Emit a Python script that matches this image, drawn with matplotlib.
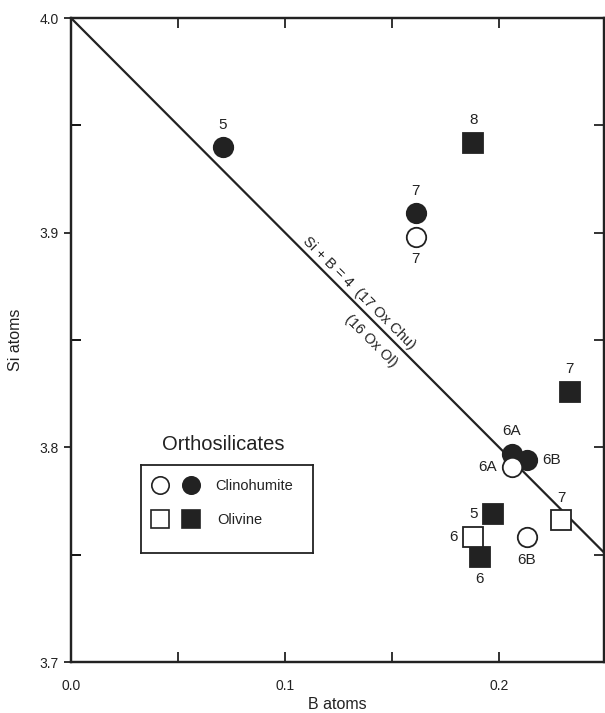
import matplotlib
matplotlib.use("Agg")
import matplotlib.pyplot as plt
import numpy as np

plt.rcParams['font.family'] = ['Liberation Sans', 'DejaVu Sans']

## data: (B atoms, Si atoms, label, label placement)
chu_open_x = [0.161, 0.206, 0.213]
chu_open_y = [3.898, 3.791, 3.758]
chu_open_lab = ['7', '6A', '6B']
chu_open_pos = ['below', 'left', 'below']

chu_fill_x = [0.071, 0.161, 0.206, 0.213]
chu_fill_y = [3.940, 3.909, 3.797, 3.794]
chu_fill_lab = ['5', '7', '6A', '6B']
chu_fill_pos = ['above', 'above', 'above', 'right']

oli_open_x = [0.188, 0.229]
oli_open_y = [3.758, 3.766]
oli_open_lab = ['6', '7']
oli_open_pos = ['left', 'above']

oli_fill_x = [0.188, 0.233, 0.197, 0.191]
oli_fill_y = [3.942, 3.826, 3.769, 3.749]
oli_fill_lab = ['8', '7', '5', '6']
oli_fill_pos = ['above', 'above', 'left', 'below']

line_x = [0.0, 0.25]
line_y = [4.0, 3.75]

x_ticks = [0.0, 0.1, 0.2]
y_ticks = [3.7, 3.8, 3.9, 4.0]

ink = '#222222'

fig = plt.figure(figsize=(6.05, 7.13), dpi=100)
ax = fig.add_axes([71/605, 1-662/713, 533/605, 644/713])

ax.plot(line_x, line_y, color=ink, lw=1.6, zorder=1)

offs = {'above': (0, 11, 'center', 'bottom'),
        'below': (0, -11, 'center', 'top'),
        'left': (-11, 0, 'right', 'center'),
        'right': (11, 0, 'left', 'center')}

def draw_set(xs, ys, labs, pos, marker, face):
    ax.plot(xs, ys, ls='none', marker=marker, ms=14 if marker == 'o' else 14.5,
            mfc=face, mec=ink, mew=1.3, zorder=3)
    for x, y, t, p in zip(xs, ys, labs, pos):
        dx, dy, ha, va = offs[p]
        ax.annotate(t, (x, y), xytext=(dx, dy), textcoords='offset points',
                    ha=ha, va=va, fontsize=11, color=ink)

draw_set(chu_fill_x, chu_fill_y, chu_fill_lab, chu_fill_pos, 'o', ink)
draw_set(chu_open_x, chu_open_y, chu_open_lab, chu_open_pos, 'o', 'white')
draw_set(oli_fill_x, oli_fill_y, oli_fill_lab, oli_fill_pos, 's', ink)
draw_set(oli_open_x, oli_open_y, oli_open_lab, oli_open_pos, 's', 'white')

ax.set_xlim(0, 0.249)
ax.set_ylim(3.7, 4.0)

# line annotation, rotated along the line
ang = -45.0
ax.annotate('Si + B = 4  (17 Ox Chu)', (0.134, 3.866), xytext=(1, 9),
            textcoords='offset points', rotation=ang, ha='center', va='center',
            rotation_mode='anchor', fontsize=10.5, color=ink)
ax.annotate('(16 Ox Ol)', (0.140, 3.860), xytext=(0, -16),
            textcoords='offset points', rotation=ang, ha='center', va='center',
            rotation_mode='anchor', fontsize=10.5, color=ink)

# ticks
ax.set_xticks(x_ticks)
ax.set_xticklabels(['0.0', '0.1', '0.2'])
ax.set_xticks([0.05, 0.15], minor=True)
ax.set_yticks(y_ticks)
ax.set_yticklabels(['3.7', '3.8', '3.9', '4.0'])
ax.set_yticks([3.75, 3.85, 3.95], minor=True)
ax.tick_params(axis='x', which='both', direction='in', length=7, width=1.3,
               top=True, labelsize=10, colors=ink, pad=12)
ax.tick_params(axis='y', which='major', direction='out', length=5, width=1.3,
               labelsize=10, colors=ink, pad=4)
ax.tick_params(axis='y', which='minor', direction='in', length=7, width=1.3)

# right-side ticks
ax2 = ax.twinx()
ax2.set_ylim(3.7, 4.0)
ax2.set_yticks([3.75, 3.8, 3.85, 3.9, 3.95])
ax2.tick_params(axis='y', direction='in', length=7, width=1.3, labelright=False,
                colors=ink)
for a in (ax, ax2):
    for s in a.spines.values():
        s.set_linewidth(1.6)
        s.set_color(ink)

ax.set_xlabel('B atoms', fontsize=11.5, color=ink, labelpad=3)
ax.set_ylabel('Si atoms', fontsize=11.5, color=ink, labelpad=12)

# legend box drawn by hand
fig.text(223/605, 1-445/713, 'Orthosilicates', fontsize=14.5, color=ink,
         ha='center', va='center')
leg = fig.add_axes([141/605, 1-553/713, 172/605, 88/713])
leg.set_xlim(0, 172)
leg.set_ylim(88, 0)
leg.set_xticks([])
leg.set_yticks([])
for s in leg.spines.values():
    s.set_linewidth(1.3)
    s.set_color(ink)
leg.plot([19], [20], marker='o', ms=12.5, mfc='white', mec=ink, mew=1.2, ls='none')
leg.plot([50], [20], marker='o', ms=12.5, mfc=ink, mec=ink, mew=1.2, ls='none')
leg.plot([19], [54], marker='s', ms=12.5, mfc='white', mec=ink, mew=1.2, ls='none')
leg.plot([50], [54], marker='s', ms=12.5, mfc=ink, mec=ink, mew=1.2, ls='none')
leg.text(74, 21, 'Clinohumite', fontsize=10.5, color=ink, va='center')
leg.text(76, 55, 'Olivine', fontsize=10.5, color=ink, va='center')

fig.savefig('out.png', dpi=100)
